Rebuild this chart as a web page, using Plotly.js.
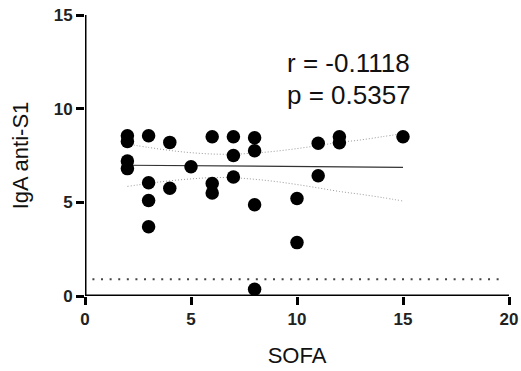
<!DOCTYPE html>
<html>
<head>
<meta charset="utf-8">
<script src="https://cdn.plot.ly/plotly-3.0.1.min.js"></script>
<style>html,body{margin:0;padding:0;background:#fff;}#chart{width:521px;height:371px;}</style>
</head>
<body>
<div id="chart"></div>
<script>
// SOFA score (x) and IgA anti-S1 (y) per patient
const sofa = [2,2,2,2, 3,3,3,3, 4,4, 5, 6,6,6, 7,7,7, 8,8,8,8, 10,10, 11,11, 12,12, 15];
const iga  = [8.55,8.25,7.2,6.8, 8.55,6.05,5.1,3.7, 8.2,5.75, 6.9, 8.5,6.0,5.5, 8.5,7.5,6.35, 8.45,7.75,4.87,0.36, 5.2,2.85, 8.15,6.42, 8.5,8.18, 8.5];

// Regression line and 95% confidence band
const fitX   = [2, 15];
const fitY   = [6.98, 6.87];
const bandX  = [2, 3, 4, 5, 6, 7, 8, 9, 10, 11, 12, 13, 14, 15];
const upperY = [8.11, 7.93, 7.77, 7.65, 7.58, 7.57, 7.63, 7.73, 7.87, 8.03, 8.2, 8.33, 8.5, 8.67];
const lowerY = [5.85, 6.01, 6.15, 6.25, 6.32, 6.31, 6.23, 6.11, 5.95, 5.77, 5.58, 5.43, 5.26, 5.07];

// Reference threshold line
const cutX = [0.35, 19.6];
const cutY = [0.9, 0.9];

const statLines = ["r = -0.1118", "p = 0.5357"];
const statY = [12.42, 10.72];
const statX = 9.43;

const FONT = "Liberation Sans, Arial, sans-serif";

const traces = [
  {x: cutX, y: cutY, mode: "lines", line: {color: "#444", width: 2, dash: "2px,6.6px"}, hoverinfo: "skip"},
  {x: bandX, y: upperY, mode: "lines", line: {color: "#999", width: 1, dash: "1px,2px", shape: "spline"}, hoverinfo: "skip"},
  {x: bandX, y: lowerY, mode: "lines", line: {color: "#999", width: 1, dash: "1px,2px", shape: "spline"}, hoverinfo: "skip"},
  {x: fitX, y: fitY, mode: "lines", line: {color: "#333", width: 1.2}, hoverinfo: "skip"},
  {x: sofa, y: iga, mode: "markers", marker: {color: "#000", size: 13.5}, cliponaxis: false}
];

const layout = {
  width: 521, height: 371,
  margin: {l: 85, r: 12, t: 15, b: 75, pad: 0},
  paper_bgcolor: "#fff", plot_bgcolor: "#fff",
  showlegend: false,
  font: {family: FONT, color: "#111"},
  xaxis: {
    range: [0, 20], tickvals: [0, 5, 10, 15, 20], ticktext: ["0","5","10","15","20"],
    showgrid: false, zeroline: false, showline: false,
    ticks: "outside", ticklen: 8, tickwidth: 3, tickcolor: "#000000",
    tickfont: {family: FONT, size: 17, color: "#222", weight: "bold"},
    title: {text: "SOFA", font: {family: FONT, size: 22, color: "#111"}, standoff: 19}
  },
  yaxis: {
    range: [0, 15], tickvals: [0, 5, 10, 15], ticktext: ["0","5","10","15"],
    showgrid: false, zeroline: false, showline: false,
    ticks: "outside", ticklen: 8, tickwidth: 3, tickcolor: "#000000",
    tickfont: {family: FONT, size: 17, color: "#222", weight: "bold"},
    title: {text: "IgA anti-S1", font: {family: FONT, size: 22, color: "#111"}, standoff: 18}
  },
  shapes: [
    {type: "line", xref: "x", yref: "y", x0: 0, x1: 20, y0: 0, y1: 0, line: {color: "#000", width: 3}, layer: "below"},
    {type: "line", xref: "x", yref: "y", x0: 0, x1: 0, y0: 0, y1: 15, line: {color: "#000", width: 3}, layer: "below"}
  ],
  annotations: statLines.map((t, i) => ({
    x: statX, y: statY[i], xref: "x", yref: "y", text: t, showarrow: false,
    xanchor: "left", yanchor: "middle", font: {family: FONT, size: 26, color: "#111"}
  }))
};

Plotly.newPlot("chart", traces, layout, {displayModeBar: false, staticPlot: true});
</script>
</body>
</html>
